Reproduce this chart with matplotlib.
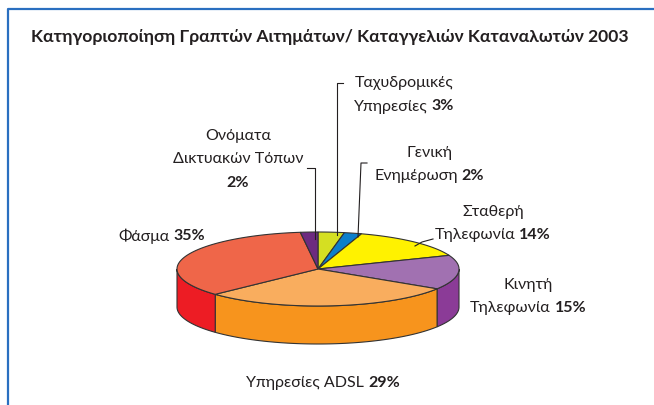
import numpy as np
import matplotlib.pyplot as plt
from matplotlib.patches import Polygon

plt.rcParams['font.family'] = ['Lato', 'DejaVu Sans']

# data (clockwise from 12 o'clock)
values = [3, 2, 14, 15, 29, 35, 2]
label_lines = [['Ταχυδρομικές', 'Υπηρεσίες'],
               ['Γενική', 'Ενημέρωση'],
               ['Σταθερή', 'Τηλεφωνία'],
               ['Κινητή', 'Τηλεφωνία'],
               ['Υπηρεσίες ADSL'],
               ['Φάσμα'],
               ['Ονόματα', 'Δικτυακών Τόπων', '']]
top_colors = ['#d5df22', '#0b7fcb', '#fff200', '#a171b1', '#f9ad5e', '#ef6649', '#6d2b80']
side_colors = ['#b9c21a', '#0866a8', '#e0d400', '#8b3b97', '#f7941d', '#ed1c24', '#55206a']
title = 'Κατηγοριοποίηση Γραπτών Αιτημάτων/ Καταγγελιών Καταναλωτών 2003'

# layout (pixel coords)
label_pos = [(404, 83), (429, 153), (493, 212), (528, 285), (323, 383), (162, 236), (238, 136)]
line_gap = 23.5
cx, cy, a, b, depth = 318, 270, 141, 37, 38
edge = '#333333'

fig = plt.figure(figsize=(6.54, 4.06), dpi=100)
ax = fig.add_axes([0, 0, 1, 1])
ax.set_xlim(0, 654)
ax.set_ylim(406, 0)
ax.axis('off')


def arc(t1, t2, n=80, dy=0):
    t = np.radians(np.linspace(t1, t2, n))
    return np.column_stack([cx + a * np.cos(t), cy - b * np.sin(t) + dy])


# slice angles
total = sum(values)
starts = []
ang = 90.0
for v in values:
    starts.append((ang, ang - 360.0 * v / total))
    ang -= 360.0 * v / total

# side walls (front half only)
for (t1, t2), col in zip(starts, side_colors):
    hi, lo = min(t1, 0), max(t2, -180)
    if hi <= lo:
        continue
    top = arc(hi, lo)
    bot = arc(lo, hi, dy=depth)
    ax.add_patch(Polygon(np.vstack([top, bot]), closed=True, fc=col, ec=edge, lw=0.8, zorder=1))

# top faces
for (t1, t2), col in zip(starts, top_colors):
    pts = np.vstack([[cx, cy], arc(t1, t2)])
    ax.add_patch(Polygon(pts, closed=True, fc=col, ec=edge, lw=0.8, zorder=2))

renderer = fig.canvas.get_renderer()


def mixed_line(x, y, normal, bold, size=11.5):
    parts = []
    if normal:
        parts.append(ax.text(0, y, normal, fontsize=size, color='#231f20', ha='left', va='center'))
    if bold:
        parts.append(ax.text(0, y, bold, fontsize=size, color='#231f20', fontweight='bold',
                             ha='left', va='center'))
    gap = 4 if len(parts) == 2 else 0
    widths = [p.get_window_extent(renderer).width for p in parts]
    xx = x - (sum(widths) + gap) / 2
    for p, w in zip(parts, widths):
        p.set_x(xx)
        xx += w + gap


for lines, v, (x, y) in zip(label_lines, values, label_pos):
    for i, ln in enumerate(lines):
        pct = '%d%%' % v if i == len(lines) - 1 else ''
        mixed_line(x, y + i * line_gap, ln, pct)

# leader lines
leaders = [[(343, 84), (337, 84), (337, 236)],
           [(367, 164), (361, 164), (358, 238)],
           [(433, 240), (422, 243), (415, 247)],
           [(307, 169), (315, 169), (315, 240)]]
for pts in leaders:
    xs, ys = zip(*pts)
    ax.plot(xs, ys, color='#231f20', lw=0.8, zorder=3)

ax.text(330, 37, title, fontsize=12.6, fontweight='bold', color='#231f20', ha='center', va='center')

# blue frame
ax.plot([8, 8, 654], [406, 10, 10], color='#2a6fc0', lw=1.6, solid_capstyle='butt')

fig.savefig('out.png', dpi=100)
